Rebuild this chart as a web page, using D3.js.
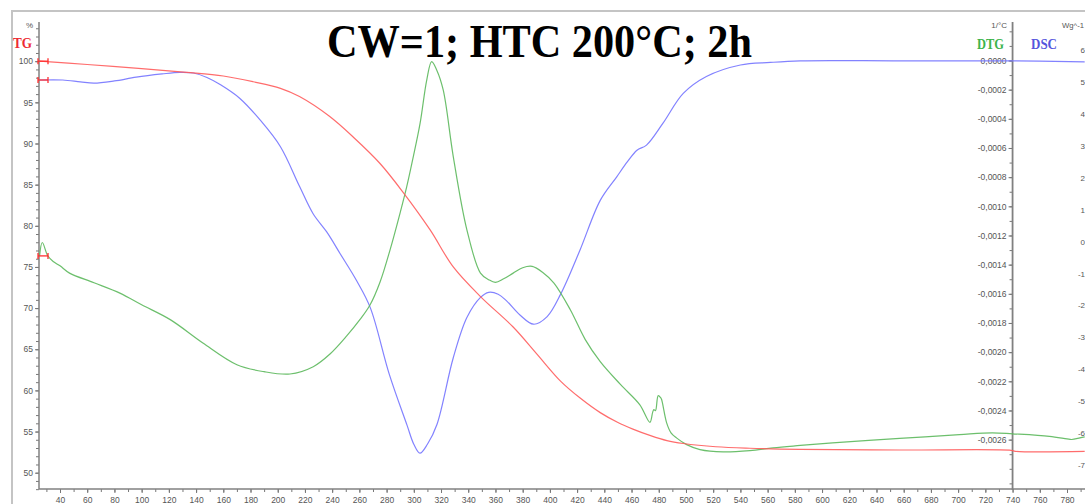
<!DOCTYPE html>
<html>
<head>
<meta charset="utf-8">
<script src="https://cdn.jsdelivr.net/npm/d3@7"></script>
<style>
  html, body { margin: 0; padding: 0; background: #fff; }
  svg { display: block; }
  .tick text { font-family: "Liberation Sans", Arial, sans-serif; font-size: 8.5px; fill: #555; }
</style>
</head>
<body>
<svg id="chart" width="1085" height="504"></svg>
<script>
// Thermal analysis run: TG (%), DTG (1/°C) and DSC (W/g) against temperature (°C)
const tgTemps  = [25, 60, 100, 133, 160, 182, 202, 216, 238, 256, 275, 292, 312, 329, 349, 373, 390, 408, 422, 437, 450, 461, 474, 486, 498, 522, 547, 584, 657, 739, 742, 793];
const tgValues = [100.0, 99.6, 99.1, 98.65, 98.2, 97.5, 96.7, 95.7, 93.3, 90.7, 87.6, 84.1, 79.5, 75.0, 71.4, 67.7, 64.5, 61.1, 59.1, 57.3, 56.1, 55.3, 54.5, 53.9, 53.55, 53.15, 52.97, 52.84, 52.76, 52.72, 52.6, 52.58];

const dtgTemps  = [25, 27, 31, 35, 40, 47, 65, 84, 100, 121, 145, 170, 190, 209, 226.1, 238.4, 250.7, 260.5, 267.8, 275.2, 282.5, 289.9, 294.8, 299.4, 304.6, 309.5, 313.1, 316.8, 321.6, 329, 339, 349, 355, 360, 366, 373, 380, 387, 395, 403, 415, 426, 437, 452, 466, 473.5, 475.5, 476.4, 477.6, 479.6, 481.4, 482.1, 485.8, 489, 493, 500.5, 510.3, 527.4, 547, 564, 584, 621, 657, 701, 725, 740, 767, 780, 783.4, 789.5, 793];
const dtgValues = [-0.00134, -0.001248, -0.001339, -0.001378, -0.001408, -0.001458, -0.001524, -0.001595, -0.001675, -0.001777, -0.001937, -0.002086, -0.002134, -0.00215, -0.0021, -0.002013, -0.001889, -0.001776, -0.001677, -0.001519, -0.0013, -0.001046, -0.000865, -0.000669, -0.000431, -0.000134, -0.000008, -0.000065, -0.000202, -0.000659, -0.001161, -0.001458, -0.001503, -0.001522, -0.001497, -0.001458, -0.001421, -0.001412, -0.001455, -0.001526, -0.001709, -0.001914, -0.002065, -0.002223, -0.00236, -0.002481, -0.002413, -0.002394, -0.002401, -0.002298, -0.002312, -0.002325, -0.002485, -0.002553, -0.002588, -0.002634, -0.002668, -0.002684, -0.002675, -0.002656, -0.00264, -0.002613, -0.002592, -0.002565, -0.002553, -0.00256, -0.002577, -0.002595, -0.002599, -0.002588, -0.002581];

const dscTemps  = [25, 42, 55, 65, 80, 96, 115, 128, 138, 148, 158, 172, 187, 202, 216, 226, 236, 246, 258, 268, 282, 295, 300, 304.5, 310, 317, 329, 339, 349, 355, 362, 368, 378, 388, 398, 408, 422, 437, 449, 457, 464, 471, 483, 498, 515, 540, 562, 584, 657, 740, 793];
const dscValues = [5.06, 5.06, 5.0, 4.96, 5.03, 5.15, 5.25, 5.30, 5.28, 5.14, 4.91, 4.49, 3.81, 2.97, 1.73, 0.87, 0.3, -0.39, -1.23, -2.07, -4.16, -5.75, -6.35, -6.63, -6.35, -5.73, -3.64, -2.38, -1.75, -1.59, -1.65, -1.85, -2.3, -2.59, -2.35, -1.64, -0.28, 1.29, 2.02, 2.5, 2.86, 3.02, 3.7, 4.64, 5.17, 5.53, 5.61, 5.66, 5.66, 5.66, 5.63];

// Axis ticks
const tempMajorTicks = d3.range(40, 781, 20);
const tempMinorTicks = d3.range(30, 791, 10);
const tgMajorTicks = d3.range(50, 101, 5);
const tgMinorTicks = d3.range(48, 105, 1);
const dtgMajorTicks = d3.range(0, 14).map(i => -i * 0.0002);
const dtgMinorTicks = d3.range(-2, 30).map(i => -i * 0.0001);
const dscMajorTicks = d3.range(6, -8, -1);

const titleText = "CW=1; HTC 200°C; 2h";

const svg = d3.select("#chart");

// Scales
const x = d3.scaleLinear().domain([40, 780]).range([60, 1067]);
const yTG = d3.scaleLinear().domain([100, 50]).range([61.2, 472.7]);
const yDTG = d3.scaleLinear().domain([0, -0.0028]).range([60.5, 468.8]);
const yDSC = d3.scaleLinear().domain([6, -7]).range([50, 465]);

const plotLeft = 39, plotRight = 1085, plotTop = 22, plotBottom = 489;

const colors = { tg: "#ff5c5c", dtg: "#5cb85c", dsc: "#7474ff" };

// Outer frame
svg.append("path")
  .attr("d", "M12,504 L12,11 L1085,11")
  .attr("fill", "none").attr("stroke", "#c4c4c4").attr("stroke-width", 2);

svg.append("defs").append("clipPath").attr("id", "plotClip")
  .append("rect").attr("x", plotLeft).attr("y", 0)
  .attr("width", plotRight - plotLeft).attr("height", plotBottom);

const fmtDTG = d => d3.format(".4f")(Math.abs(d) < 1e-12 ? 0 : d).replace("−", "-").replace(".", ",");
const fmtPlain = d => d3.format("d")(d).replace("−", "-");

function styleAxis(g) {
  g.select(".domain").remove();
  g.selectAll(".tick line").attr("stroke", "#777");
}

// Left TG axis
const gLeftMinor = svg.append("g").attr("transform", `translate(${plotLeft},0)`)
  .call(d3.axisLeft(yTG).tickValues(tgMinorTicks).tickSize(3).tickFormat(""));
styleAxis(gLeftMinor);
const gLeft = svg.append("g").attr("transform", `translate(${plotLeft},0)`)
  .call(d3.axisLeft(yTG).tickValues(tgMajorTicks).tickSize(4).tickPadding(2).tickFormat(fmtPlain));
styleAxis(gLeft);

// Bottom temperature axis
const gBottomMinor = svg.append("g").attr("transform", `translate(0,${plotBottom})`)
  .call(d3.axisBottom(x).tickValues(tempMinorTicks).tickSize(3).tickFormat(""));
styleAxis(gBottomMinor);
const gBottom = svg.append("g").attr("transform", `translate(0,${plotBottom})`)
  .call(d3.axisBottom(x).tickValues(tempMajorTicks).tickSize(4).tickPadding(4).tickFormat(fmtPlain));
styleAxis(gBottom);

// DTG axis (inner right)
const dtgAxisX = x(740);
const gDtgMinor = svg.append("g").attr("transform", `translate(${dtgAxisX},0)`)
  .call(d3.axisLeft(yDTG).tickValues(dtgMinorTicks).tickSize(3).tickFormat(""));
styleAxis(gDtgMinor);
const gDtg = svg.append("g").attr("transform", `translate(${dtgAxisX},0)`)
  .call(d3.axisLeft(yDTG).tickValues(dtgMajorTicks).tickSize(4).tickPadding(2).tickFormat(fmtDTG));
styleAxis(gDtg);

// DSC axis (outer right, its line sits at the page edge)
const dscAxisX = 1090;
const gDsc = svg.append("g").attr("transform", `translate(${dscAxisX},0)`)
  .call(d3.axisLeft(yDSC).tickValues(dscMajorTicks).tickSize(4).tickPadding(1).tickFormat(fmtPlain));
styleAxis(gDsc);
gDsc.selectAll(".tick text").style("font-size", "8px");

// Axis lines
svg.append("line").attr("x1", plotLeft).attr("x2", plotLeft).attr("y1", plotTop).attr("y2", plotBottom)
  .attr("stroke", "#808080").attr("stroke-width", 1.5);
svg.append("line").attr("x1", plotLeft).attr("x2", plotRight).attr("y1", plotBottom).attr("y2", plotBottom)
  .attr("stroke", "#808080").attr("stroke-width", 1.5);
svg.append("line").attr("x1", dtgAxisX).attr("x2", dtgAxisX).attr("y1", plotTop).attr("y2", plotBottom + 1)
  .attr("stroke", "#808080").attr("stroke-width", 1.8);

// Unit labels
const unitStyle = sel => sel.attr("font-family", "Liberation Sans, Arial, sans-serif")
  .attr("font-size", 8).attr("fill", "#555");
svg.append("text").attr("x", 33).attr("y", 28).attr("text-anchor", "end").text("%").call(unitStyle);
svg.append("text").attr("x", 1007).attr("y", 28).attr("text-anchor", "end").text("1/°C").call(unitStyle);
svg.append("text").attr("x", 1062).attr("y", 28).attr("text-anchor", "start")
  .attr("textLength", 22).attr("lengthAdjust", "spacingAndGlyphs").text("Wg^-1").call(unitStyle);

// Curves
const plot = svg.append("g").attr("clip-path", "url(#plotClip)");
function drawCurve(temps, values, yScale, color) {
  const pts = temps.map((t, i) => [t, values[i]]);
  const line = d3.line().x(d => x(d[0])).y(d => yScale(d[1])).curve(d3.curveCatmullRom.alpha(0.5));
  plot.append("path").datum(pts)
    .attr("d", line).attr("fill", "none")
    .attr("stroke", color).attr("stroke-width", 1.2).attr("stroke-opacity", 0.9);
  return pts;
}
const dscPts = drawCurve(dscTemps, dscValues, yDSC, colors.dsc);
const dtgPts = drawCurve(dtgTemps, dtgValues, yDTG, colors.dtg);
const tgPts = drawCurve(tgTemps, tgValues, yTG, colors.tg);

// Start markers on each curve
[[tgPts[0], yTG], [dscPts[0], yDSC], [dtgPts[0], yDTG]].forEach(([p, ys]) => {
  const yy = ys(p[1]);
  const x0 = plotLeft - 1, x1 = plotLeft + 9;
  const g = svg.append("g").attr("stroke", "#ff3030").attr("stroke-width", 1.3).attr("fill", "none");
  g.append("line").attr("x1", x0).attr("x2", x1).attr("y1", yy).attr("y2", yy);
  g.append("line").attr("x1", x0).attr("x2", x0).attr("y1", yy - 3).attr("y2", yy + 3);
  g.append("line").attr("x1", x1).attr("x2", x1).attr("y1", yy - 3).attr("y2", yy + 3);
});

// Legends
const legendStyle = sel => sel.attr("font-family", "Liberation Serif, Times New Roman, serif")
  .attr("font-weight", "bold").attr("font-size", 14);
svg.append("text").attr("x", 13).attr("y", 48).attr("fill", "#ee2b33")
  .attr("textLength", 19).attr("lengthAdjust", "spacingAndGlyphs").text("TG").call(legendStyle);
svg.append("text").attr("x", 977).attr("y", 49).attr("fill", "#3cb44b")
  .attr("textLength", 27).attr("lengthAdjust", "spacingAndGlyphs").text("DTG").call(legendStyle);
svg.append("text").attr("x", 1031).attr("y", 49).attr("fill", "#5555dd")
  .attr("textLength", 26).attr("lengthAdjust", "spacingAndGlyphs").text("DSC").call(legendStyle);

// Title
svg.append("text").attr("x", 327).attr("y", 57)
  .attr("font-family", "Liberation Serif, Times New Roman, serif")
  .attr("font-weight", "bold").attr("font-size", 47).attr("fill", "#000")
  .attr("textLength", 425).attr("lengthAdjust", "spacingAndGlyphs")
  .text(titleText);
</script>
</body>
</html>
